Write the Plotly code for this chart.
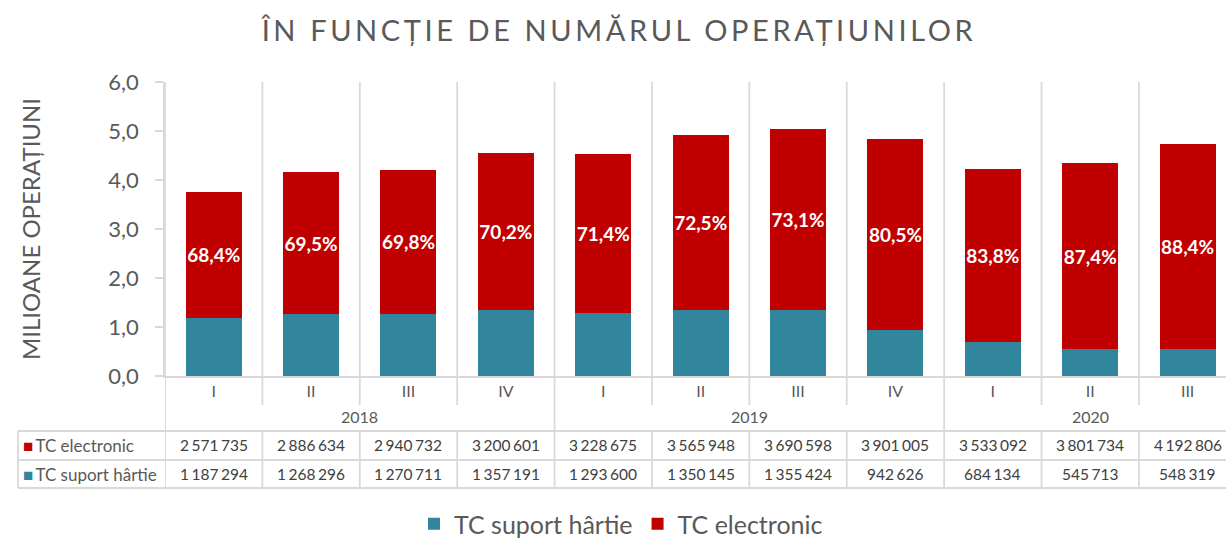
import plotly.graph_objects as go

# ---- data ----
years = ["2018", "2018", "2018", "2018", "2019", "2019", "2019", "2019", "2020", "2020", "2020"]
quarters = ["I", "II", "III", "IV", "I", "II", "III", "IV", "I", "II", "III"]
tc_electronic = [2571735, 2886634, 2940732, 3200601, 3228675, 3565948, 3690598, 3901005, 3533092, 3801734, 4192806]
tc_hartie = [1187294, 1268296, 1270711, 1357191, 1293600, 1350145, 1355424, 942626, 684134, 545713, 548319]

RED = "#C00000"
TEAL = "#31859C"
GRID = "#D9D9D9"
TXT = "#595959"
FONT = "Lato"

W, H = 1226, 538
ML, MR, MT, MB = 165, 0, 82, 162
PW = W - ML - MR
PH = H - MT - MB
XMIN, XMAX = -0.5, 10.394

def py(pix):
    """pixel y -> paper y"""
    return (H - MB - pix) / PH

def px(pix):
    return (pix - ML) / PW

xs = list(range(len(quarters)))
el_m = [v / 1e6 for v in tc_electronic]
ha_m = [v / 1e6 for v in tc_hartie]
pct = [f"{100 * e / (e + h):.1f}%".replace(".", ",") for e, h in zip(tc_electronic, tc_hartie)]

def fmt(v):
    return f"{v:,}".replace(",", "\u2006")

fig = go.Figure()
fig.add_trace(go.Bar(x=xs, y=ha_m, name="TC suport hârtie", marker=dict(color=TEAL, line=dict(width=0)),
                     width=0.575, hoverinfo="skip"))
fig.add_trace(go.Bar(x=xs, y=el_m, name="TC electronic", marker=dict(color=RED, line=dict(width=0)),
                     width=0.575, text=pct, textposition="inside", insidetextanchor="middle",
                     textangle=0, textfont=dict(color="white", size=19, family=FONT, weight="bold"),
                     hoverinfo="skip"))

shapes = []
LW = 1.8
# vertical separators
year_bounds = [i + 0.5 for i in range(len(years) - 1) if years[i] != years[i + 1]]
for i in range(len(quarters)):
    b = i - 0.5
    if i == 0 or b in year_bounds:
        shapes.append(dict(type="line", xref="x", yref="paper", x0=b, x1=b, y0=1, y1=py(488),
                           line=dict(color=GRID, width=LW)))
    else:
        shapes.append(dict(type="line", xref="x", yref="paper", x0=b, x1=b, y0=1, y1=py(405),
                           line=dict(color=GRID, width=LW)))
        shapes.append(dict(type="line", xref="x", yref="paper", x0=b, x1=b, y0=py(431), y1=py(488),
                           line=dict(color=GRID, width=LW)))
# table horizontal lines and left border
for yy in [431, 460, 488]:
    shapes.append(dict(type="line", xref="paper", yref="paper", x0=px(18), x1=1.02, y0=py(yy), y1=py(yy),
                       line=dict(color=GRID, width=LW)))
shapes.append(dict(type="line", xref="paper", yref="paper", x0=px(18), x1=px(18), y0=py(431), y1=py(488),
                   line=dict(color=GRID, width=LW)))

ann = []
# year labels
seen = []
for y in years:
    if y not in seen:
        seen.append(y)
for y in seen:
    idx = [i for i, v in enumerate(years) if v == y]
    ann.append(dict(x=sum(idx) / len(idx), y=py(416), xref="x", yref="paper", text=y, showarrow=False,
                    font=dict(size=16, color=TXT, family=FONT), xanchor="center", yanchor="middle"))
# table rows
rows = [("TC electronic", RED, tc_electronic, 445), ("TC suport hârtie", TEAL, tc_hartie, 474)]
for name, col, vals, yp in rows:
    ann.append(dict(x=px(21), y=py(yp), xref="paper", yref="paper",
                    text=f"<span style='color:{col}'>■</span>\u2009{name}", showarrow=False,
                    font=dict(size=17, color=TXT, family=FONT), xanchor="left", yanchor="middle"))
    for i, v in enumerate(vals):
        ann.append(dict(x=xs[i], y=py(yp), xref="x", yref="paper", text=fmt(v), showarrow=False,
                        font=dict(size=15.5, color="#404040", family=FONT), xanchor="center", yanchor="middle"))
# y title
ann.append(dict(x=px(30), y=0.5, xref="paper", yref="paper", text="MILIOANE OPERAȚIUNI", textangle=-90,
                showarrow=False, font=dict(size=24, color=TXT, family=FONT), xanchor="center", yanchor="middle"))

title_txt = "ÎN FUNCȚIE DE NUMĂRUL OPERAȚIUNILOR"

fig.update_layout(
    width=W, height=H, autosize=False,
    margin=dict(l=ML, r=MR, t=MT, b=MB, pad=0, autoexpand=False),
    barmode="stack",
    plot_bgcolor="white", paper_bgcolor="white",
    separators=", ",
    font=dict(family=FONT, color=TXT),
    title=dict(text=f"<span style='letter-spacing:3.6px'>{title_txt}</span>", x=619 / W, xref="container",
               xanchor="center", y=1 - 31 / H, yanchor="middle",
               font=dict(size=29, color=TXT, family=FONT)),
    xaxis=dict(range=[XMIN, XMAX], tickmode="array", tickvals=xs, ticktext=quarters,
               showgrid=False, zeroline=False, showline=True, linecolor=GRID, linewidth=LW,
               ticks="", tickfont=dict(size=16, color=TXT, family=FONT), fixedrange=True),
    yaxis=dict(range=[0, 6], dtick=1, tickformat=".1f", showgrid=False, zeroline=False,
               showline=True, linecolor=GRID, linewidth=LW, ticks="outside", ticklen=8, tickcolor=GRID,
               tickwidth=LW, tickfont=dict(size=22, color=TXT, family=FONT), ticklabelstandoff=12,
               fixedrange=True),
    showlegend=True,
    legend=dict(orientation="h", x=px(621), xanchor="center", y=py(524), yanchor="middle",
                font=dict(size=25, color=TXT, family=FONT), traceorder="normal"),
    uniformtext=dict(minsize=19, mode="show"),
    shapes=shapes,
    annotations=ann,
)

fig.write_html("out.html", config={"displayModeBar": False},
               post_script="document.body.style.margin='0px';document.body.style.overflow='hidden';")
